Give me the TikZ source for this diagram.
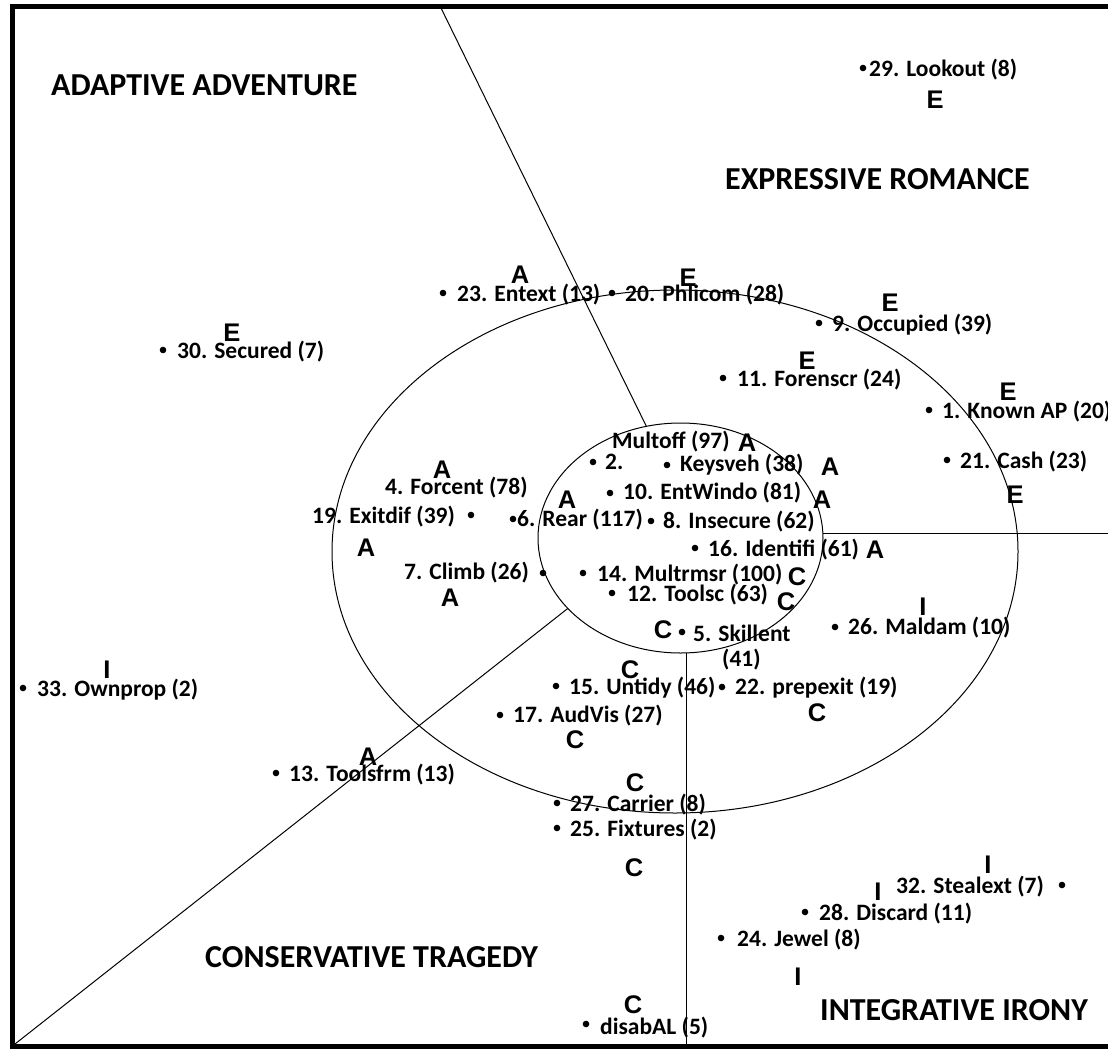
\documentclass[tikz,border=0pt]{standalone}
\usepackage{fontspec}
\setmainfont{Carlito}
\newfontfamily\letterfont{Liberation Sans}
\usetikzlibrary{shapes.geometric}

\begin{document}
\begin{tikzpicture}[x=1pt,y=-1pt,
  lbl/.style={anchor=west, inner sep=0pt, font=\fontsize{23.5}{28}\selectfont\bfseries},
  ttl/.style={anchor=west, inner sep=0pt, font=\fontsize{32}{38}\selectfont\bfseries},
  grp/.style={inner sep=0pt, font=\letterfont\fontsize{25.5}{28}\selectfont\bfseries},
  dot/.style={circle, fill=black, inner sep=0pt, minimum size=6.6pt},
  ring/.style={ellipse, draw, line width=1pt, inner sep=0pt, outer sep=0pt},
  divider/.style={line width=1pt},
  frame/.style={line width=5pt, line join=miter}]

\useasboundingbox (0,0) rectangle (1108,1049);

% outer frame (open on the right)
\draw[frame] (1108,7) -- (12,7) -- (12,1046.5) -- (1108,1046.5);

% the two rings
\node[ring, minimum width=686pt, minimum height=523pt] (outer) at (675,551.5) {};
\node[ring, minimum width=285pt, minimum height=230pt] (inner) at (680.5,538) {};

% quadrant dividers
\coordinate (topend) at (441,8);
\coordinate (corner) at (15,1044);
\coordinate (floor) at (0,1044);
\coordinate (rightedge) at (1108,0);
\draw[divider] (topend) -- (inner.107);
\draw[divider] (corner) -- (inner.212);
\draw[divider] (inner.273) -- (inner.273 |- floor);
\draw[divider] (inner.2) -- (inner.2 -| rightedge);

% quadrant titles
\node[ttl] (tAA) at (51,85) {ADAPTIVE ADVENTURE};
\node[ttl] (tER) at (725,179) {EXPRESSIVE ROMANCE};
\node[ttl] (tCT) at (205,957) {CONSERVATIVE TRAGEDY};
\node[ttl] (tII) at (820,1010) {INTEGRATIVE IRONY};

% group letters
\node[grp] (e1) at (935,100) {E};
\node[grp] (e2) at (688,278) {E};
\node[grp] (e3) at (890,303) {E};
\node[grp] (e4) at (807,361) {E};
\node[grp] (e5) at (1008,392) {E};
\node[grp] (e6) at (1015,495) {E};
\node[grp] (e7) at (232,333) {E};

\node[grp] (a1) at (520,275) {A};
\node[grp] (a2) at (442,470) {A};
\node[grp] (a3) at (567,500) {A};
\node[grp] (a4) at (747,443) {A};
\node[grp] (a5) at (830,467) {A};
\node[grp] (a6) at (822,500) {A};
\node[grp] (a7) at (875,550) {A};
\node[grp] (a8) at (366,548) {A};
\node[grp] (a9) at (450,598) {A};
\node[grp] (a10) at (368,757) {A};

\node[grp] (c1) at (797,577) {C};
\node[grp] (c2) at (786,602) {C};
\node[grp] (c3) at (663,630) {C};
\node[grp] (c4) at (630,670) {C};
\node[grp] (c5) at (817,713) {C};
\node[grp] (c6) at (575,740) {C};
\node[grp] (c7) at (635,783) {C};
\node[grp] (c8) at (634,868) {C};
\node[grp] (c9) at (633,1005) {C};

\node[grp] (i1) at (923,607) {I};
\node[grp] (i2) at (107,670) {I};
\node[grp] (i3) at (988,865) {I};
\node[grp] (i4) at (878,892) {I};
\node[grp] (i5) at (798,977) {I};

% points and their labels
\node[dot] (d29) at (863,68) {};
\node[lbl] (l29) at (869,70) {29. Lookout (8)};
\node[dot] (d20) at (612,293) {};
\node[lbl] (l20) at (625,295) {20. Phlicom (28)};
\node[dot] (d23) at (443,293) {};
\node[lbl] (l23) at (457,295) {23. Entext (13)};
\node[dot] (d9) at (819,323) {};
\node[lbl] (l9) at (832,325) {9. Occupied (39)};
\node[dot] (d30) at (163,350) {};
\node[lbl] (l30) at (177,352) {30. Secured (7)};
\node[dot] (d11) at (723,378) {};
\node[lbl] (l11) at (737,380) {11. Forenscr (24)};
\node[dot] (d1) at (929,410) {};
\node[lbl] (l1) at (942,412) {1. Known AP (20)};
\node[dot] (d21) at (947,460) {};
\node[lbl] (l21) at (960,462) {21. Cash (23)};

\node[lbl] (lmo) at (612,442) {Multoff (97)};
\node[dot] (d2) at (593,462) {};
\node[lbl] (l2) at (605,462) {2.};
\node[dot] (dks) at (667,465) {};
\node[lbl] (lks) at (680,465) {Keysveh (38)};
\node[dot] (d10) at (610,493) {};
\node[lbl] (l10) at (623,493) {10. EntWindo (81)};
\node[lbl] (l4) at (385,488) {4. Forcent (78)};
\node[lbl] (l19) at (312,517) {19. Exitdif (39)};
\node[dot] (d19) at (471,515) {};
\node[dot] (d6) at (513,519) {};
\node[lbl] (l6) at (517,520) {6. Rear (117)};
\node[dot] (d8) at (651,521) {};
\node[lbl] (l8) at (663,522) {8. Insecure (62)};
\node[dot] (d16) at (695,548) {};
\node[lbl] (l16) at (708,550) {16. Identifi (61)};
\node[lbl] (l7) at (404,573) {7. Climb (26)};
\node[dot] (d7) at (543,573) {};
\node[dot] (d14) at (583,573) {};
\node[lbl] (l14) at (597,575) {14. Multrmsr (100)};
\node[dot] (d12) at (612,593) {};
\node[lbl] (l12) at (627,595) {12. Toolsc (63)};
\node[dot] (d5) at (682,632) {};
\node[lbl] (l5) at (693,633) {5. Skillent};
\node[lbl] (l5b) at (722,660) {(41)};
\node[dot] (d26) at (835,627) {};
\node[lbl] (l26) at (848,628) {26. Maldam (10)};
\node[dot] (d15) at (556,686) {};
\node[lbl] (l15) at (569,688) {15. Untidy (46)};
\node[dot] (d22) at (722,687) {};
\node[lbl] (l22) at (735,688) {22. prepexit (19)};
\node[dot] (d33) at (23,688) {};
\node[lbl] (l33) at (37,690) {33. Ownprop (2)};
\node[dot] (d17) at (500,715) {};
\node[lbl] (l17) at (513,716) {17. AudVis (27)};
\node[dot] (d13) at (276,773) {};
\node[lbl] (l13) at (289,775) {13. Toolsfrm (13)};
\node[dot] (d27) at (557,803) {};
\node[lbl] (l27) at (570,805) {27. Carrier (8)};
\node[dot] (d25) at (557,828) {};
\node[lbl] (l25) at (570,830) {25. Fixtures (2)};
\node[lbl] (l32) at (896,887) {32. Stealext (7)};
\node[dot] (d32) at (1062,885) {};
\node[dot] (d28) at (805,912) {};
\node[lbl] (l28) at (819,914) {28. Discard (11)};
\node[dot] (d24) at (721,938) {};
\node[lbl] (l24) at (737,940) {24. Jewel (8)};
\node[dot] (dda) at (586,1024) {};
\node[lbl] (lda) at (600,1028) {disabAL (5)};

\end{tikzpicture}
\end{document}
